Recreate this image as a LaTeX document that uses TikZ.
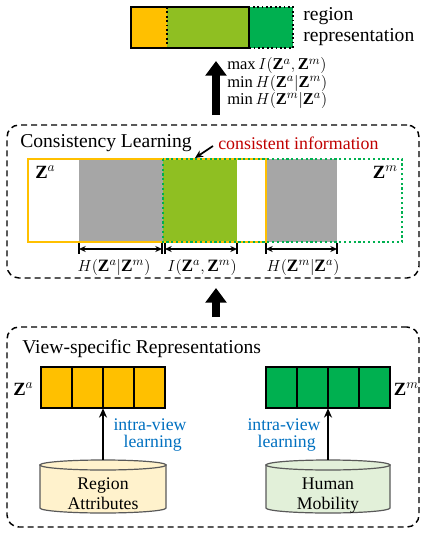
\documentclass[tikz,border=0pt]{standalone}
\usepackage{fontspec}
\setmainfont{Liberation Serif}
\usetikzlibrary{arrows.meta,calc}
\definecolor{zorange}{HTML}{FFC000}
\definecolor{zlgreen}{HTML}{8FBF22}
\definecolor{zdgreen}{HTML}{00B050}
\definecolor{zgray}{HTML}{A6A6A6}
\definecolor{zred}{HTML}{C00000}
\definecolor{zblue}{HTML}{0070C0}
\definecolor{cylyellow}{HTML}{FFF2CC}
\definecolor{cylgreen}{HTML}{E2F0D9}
\definecolor{cylborder}{HTML}{595959}
\tikzset{
  groupbox/.style={draw, dash pattern=on 4.5pt off 3pt, line width=1.1pt, rounded corners=9pt, inner sep=0pt},
  header/.style={font=\fontsize{14.7}{16}\selectfont, anchor=base west, inner sep=0pt},
  lbl/.style={font=\fontsize{13.3}{15}\selectfont, inner sep=0pt, anchor=base},
  mlbl/.style={font=\fontsize{13}{15}\selectfont, inner sep=0pt, anchor=base},
  zlbl/.style={font=\fontsize{14}{15}\selectfont, inner sep=0pt},
  bigarrow/.style={line width=6pt, -{Triangle[length=11pt,width=15.5pt]}},
  thinarrow/.style={line width=1.5pt, -{Stealth[length=7pt,width=6pt]}},
  dimarrow/.style={line width=0.9pt, {Stealth[length=5pt,width=4.5pt]}-{Stealth[length=5pt,width=4.5pt]}},
  cellbox/.style={draw, line width=1.2pt},
  cylshape/.style={draw=cylborder, line width=0.9pt}
}
\begin{document}
\begin{tikzpicture}[x=0.75pt,y=-0.75pt]
\useasboundingbox (0,0) rectangle (427,535);

% ---------- top region representation bar ----------
\fill[zorange] (131,7) rectangle (167,48);
\fill[zlgreen] (167,7) rectangle (249,48);
\fill[zdgreen] (249,7) rectangle (293,48);
\draw[line width=1.3pt] (131,7) rectangle (249,48);
\draw[line width=1.3pt, dotted] (167,7) rectangle (293,48);
\node[header, align=left, font=\fontsize{14.7}{15.4}\selectfont] (reg) at (303,41.5) {region\\representation};

% objectives
\coordinate (ba1) at (216,115);
\coordinate (ba2) at (216,61);
\draw[bigarrow] (ba1) -- (ba2);
\node[mlbl, anchor=base west, align=left, font=\fontsize{12.4}{11.3}\selectfont] (obj) at (227,104.5)
  {$\max I(\mathbf{Z}^{a},\mathbf{Z}^{m})$\\$\min H(\mathbf{Z}^{a}|\mathbf{Z}^{m})$\\$\min H(\mathbf{Z}^{m}|\mathbf{Z}^{a})$};

% ---------- consistency learning ----------
\node[groupbox, minimum width=309pt, minimum height=114.75pt] (cons) at (213,201.5) {};
\node[header] (constitle) at (20,147) {Consistency Learning};
\node[header, text=zred, font=\fontsize{13.4}{15}\selectfont] (ci) at (218,149) {consistent information};
\coordinate (citip) at (195,158);
\draw[line width=1.3pt, -{Stealth[length=6pt,width=5.5pt]}] (213,146) -- (citip);

\fill[zgray] (79,159) rectangle (162.5,242);
\fill[zlgreen] (163,159) rectangle (237,242);
\fill[zgray] (267,159) rectangle (337,242);
\draw[zorange, line width=1.6pt] (28,159) rectangle (266,242);
\draw[zdgreen, line width=1.6pt, dotted] (163,159) rectangle (402,242);
\node[zlbl, anchor=base west] (za1) at (35,178) {$\mathbf{Z}^{a}$};
\node[zlbl, anchor=base east] (zm1) at (398,178) {$\mathbf{Z}^{m}$};

% dimension arrows
\foreach \x in {79,162,165,237,266,337}{
  \draw[line width=0.9pt] (\x,243) -- (\x,254);
}
\coordinate (d1a) at (79,249);   \coordinate (d1b) at (162,249);
\coordinate (d2a) at (165,249);  \coordinate (d2b) at (237,249);
\coordinate (d3a) at (266,249);  \coordinate (d3b) at (337,249);
\draw[dimarrow] (d1a) -- (d1b);
\draw[dimarrow] (d2a) -- (d2b);
\draw[dimarrow] (d3a) -- (d3b);
\node[mlbl] (h1) at (114,271) {$H(\mathbf{Z}^{a}|\mathbf{Z}^{m})$};
\node[mlbl] (i1) at (202,271) {$I(\mathbf{Z}^{a},\mathbf{Z}^{m})$};
\node[mlbl] (h2) at (303,271) {$H(\mathbf{Z}^{m}|\mathbf{Z}^{a})$};

\coordinate (bm1) at (216,317);
\coordinate (bm2) at (216,288);
\draw[bigarrow] (bm1) -- (bm2);

% ---------- view-specific representations ----------
\node[groupbox, minimum width=309pt, minimum height=150pt] (vs) at (213,427) {};
\node[header] (vstitle) at (22,353) {View-specific Representations};

\node[inner sep=0pt, minimum width=93pt, minimum height=30.75pt] (za) at (103,387.5) {};
\node[inner sep=0pt, minimum width=93pt, minimum height=30.75pt] (zm) at (328,387.5) {};
\foreach \x in {41,72,103,134}{
  \draw[cellbox, fill=zorange] (\x,367) rectangle (\x+31,408);
}
\foreach \x in {266,297,328,359}{
  \draw[cellbox, fill=zdgreen] (\x,367) rectangle (\x+31,408);
}
\node[zlbl, anchor=base west] (za2) at (13,395) {$\mathbf{Z}^{a}$};
\node[zlbl, anchor=base east] (zm2) at (419,395) {$\mathbf{Z}^{m}$};

% cylinders
\node[inner sep=0pt, minimum width=94.5pt, minimum height=39.75pt] (cylA) at (103,486.5) {};
\node[inner sep=0pt, minimum width=93pt, minimum height=39.75pt] (cylM) at (328,486.5) {};
\filldraw[cylshape, fill=cylyellow] (40,465) -- (40,508) arc[start angle=180, end angle=0, x radius=63, y radius=5] -- (166,465) -- cycle;
\filldraw[cylshape, fill=cylyellow] (103,465) ellipse [x radius=63, y radius=5];
\filldraw[cylshape, fill=cylgreen] (266,465) -- (266,508) arc[start angle=180, end angle=0, x radius=62, y radius=5] -- (390,465) -- cycle;
\filldraw[cylshape, fill=cylgreen] (328,465) ellipse [x radius=62, y radius=5];
\node[lbl, align=center, font=\fontsize{13.3}{15}\selectfont] (ratext) at (103,509) {Region\\Attributes};
\node[lbl, align=center, font=\fontsize{13.3}{15}\selectfont] (hmtext) at (328,509) {Human\\Mobility};

\draw[thinarrow] (cylA.north) -- (za.south);
\draw[thinarrow] (cylM.north) -- (zm.south);
\node[lbl, text=zblue, align=center, font=\fontsize{13.3}{12.4}\selectfont] (ivA) at (150,447.5) {intra-view\\\hspace*{4pt}learning};
\node[lbl, text=zblue, align=center, font=\fontsize{13.3}{12.4}\selectfont] (ivM) at (284,447.5) {intra-view\\\hspace*{4pt}learning};
\end{tikzpicture}
\end{document}
